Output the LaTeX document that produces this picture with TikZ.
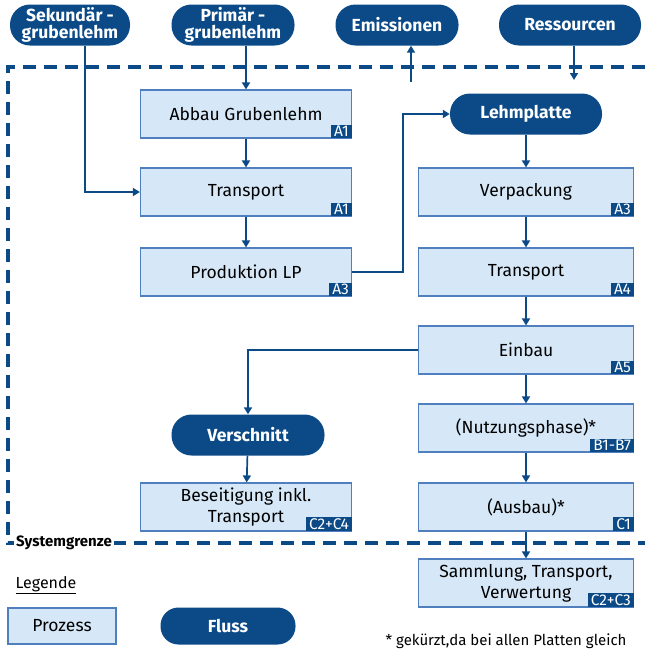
\documentclass[tikz,border=0pt]{standalone}
\usepackage{fontspec}
\setmainfont{Fira Sans}
\usetikzlibrary{arrows.meta,positioning}
\definecolor{dunkelblau}{HTML}{0B4A87}
\definecolor{hellblau}{HTML}{D6E8F8}
\definecolor{rahmen}{HTML}{4F7FBF}

\begin{document}
\begin{tikzpicture}[x=1pt,y=-1pt,
    prozess/.style={draw=rahmen,line width=1.2pt,fill=hellblau,minimum width=211pt,minimum height=48pt,
      align=center,inner sep=2pt,font=\fontsize{17.5}{21}\selectfont},
    fluss/.style={fill=dunkelblau,text=white,rounded corners=20pt,minimum height=41pt,inner sep=1pt,
      align=center,font=\fontsize{17.5}{17}\selectfont\bfseries},
    marke/.style={fill=dunkelblau,text=white,inner xsep=3pt,inner ysep=1.5pt,anchor=south east,
      font=\fontsize{15.5}{16}\selectfont},
    pfeil/.style={draw=dunkelblau,line width=1.7pt,-{Triangle[width=8pt,length=7pt]}},
    grenze/.style={draw=dunkelblau,line width=3.2pt,dash pattern=on 13pt off 8pt}]

  \useasboundingbox (0,0) rectangle (645,651);

  % Systemgrenze
  \draw[grenze] (645,67) -- (8,67) -- (8,543) -- (645,543);
  \node[fill=white,inner sep=2pt,font=\fontsize{15}{17}\selectfont\bfseries] (grenztext) at (64,543) {Systemgrenze};

  % Fluesse
  \node[fluss,minimum width=120pt] (sek) at (70,25) {Sekund\"ar -\\grubenlehm};
  \node[fluss,minimum width=123pt] (prim) at (233,25) {Prim\"ar -\\grubenlehm};
  \node[fluss,minimum width=123pt] (emi) at (397,25) {Emissionen};
  \node[fluss,minimum width=142pt] (res) at (570,25) {Ressourcen};
  \node[fluss,minimum width=152pt] (lehm) at (526,114) {Lehmplatte};
  \node[fluss,minimum width=153pt] (versch) at (248,435) {Verschnitt};

  % Prozesse links
  \node[prozess] (abbau) at (246,114) {Abbau Grubenlehm};
  \node[prozess] (trans1) at (246,192) {Transport};
  \node[prozess] (prod) at (246,272) {Produktion LP};
  \node[prozess] (beseit) at (246,507) {Beseitigung inkl.\\Transport};

  % Prozesse rechts
  \node[prozess,minimum width=215pt] (verp) at (526,192) {Verpackung};
  \node[prozess,minimum width=215pt] (trans2) at (526,272) {Transport};
  \node[prozess,minimum width=215pt] (einbau) at (526,350) {Einbau};
  \node[prozess,minimum width=215pt] (nutz) at (526,428) {(Nutzungsphase)*};
  \node[prozess,minimum width=215pt] (ausbau) at (526,507) {(Ausbau)*};
  \node[prozess,minimum width=215pt] (samml) at (526,583) {Sammlung, Transport,\\Verwertung};

  % Module
  \node[marke] (m-abbau) at (abbau.south east) {A1};
  \node[marke] (m-trans1) at (trans1.south east) {A1};
  \node[marke] (m-prod) at (prod.south east) {A3};
  \node[marke] (m-beseit) at (beseit.south east) {C2+C4};
  \node[marke] (m-verp) at (verp.south east) {A3};
  \node[marke] (m-trans2) at (trans2.south east) {A4};
  \node[marke] (m-einbau) at (einbau.south east) {A5};
  \node[marke] (m-nutz) at (nutz.south east) {B1-B7};
  \node[marke] (m-ausbau) at (ausbau.south east) {C1};
  \node[marke] (m-samml) at (samml.south east) {C2+C3};

  % Pfeile
  \coordinate (emi-fuss) at (411,82);
  \coordinate (res-fuss) at (574,80);
  \draw[pfeil] ([xshift=15pt]sek.south) |- (trans1.west);
  \draw[pfeil] (prim.south -| abbau.north) -- (abbau.north);
  \draw[pfeil] (emi-fuss) -- (emi-fuss |- emi.south);
  \draw[pfeil] (res.south -| res-fuss) -- (res-fuss);
  \draw[pfeil] (abbau) -- (trans1);
  \draw[pfeil] (trans1) -- (prod);
  \draw[pfeil] (prod.east) -- ++(51,0) |- (lehm.west);
  \draw[pfeil] (lehm) -- (verp);
  \draw[pfeil] (verp) -- (trans2);
  \draw[pfeil] (trans2) -- (einbau);
  \draw[pfeil] (einbau) -- (nutz);
  \draw[pfeil] (nutz) -- (ausbau);
  \draw[pfeil] (ausbau) -- (samml);
  \draw[pfeil] (einbau.west) -| (versch.north);
  \draw[pfeil] (versch) -- (beseit);

  % Legende
  \node[font=\fontsize{16}{18}\selectfont] (legende) at (46,585) {\underline{Legende}};
  \node[prozess,minimum width=108pt,minimum height=36pt] (leg-prozess) at (62,626) {Prozess};
  \node[fluss,minimum width=135pt,minimum height=37pt,rounded corners=18pt] (leg-fluss) at (228,626) {Fluss};
  \node[anchor=east,font=\fontsize{15}{17}\selectfont] (fussnote) at (630,641) {* gek\"urzt,da bei allen Platten gleich};
\end{tikzpicture}
\end{document}
